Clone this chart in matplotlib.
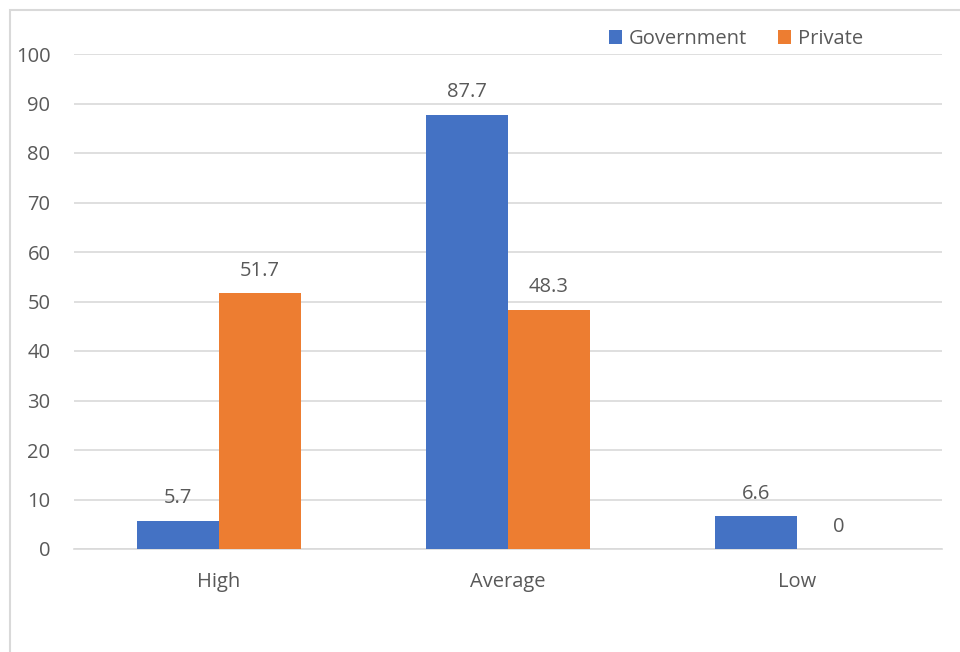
import matplotlib
matplotlib.use("Agg")
import matplotlib.pyplot as plt
import numpy as np
from matplotlib.patches import Rectangle

categories = ["High", "Average", "Low"]
government = [5.7, 87.7, 6.6]
private = [51.7, 48.3, 0]
series_names = ["Government", "Private"]
yticks = [0, 10, 20, 30, 40, 50, 60, 70, 80, 90, 100]

plt.rcParams['font.family'] = ['Open Sans', 'DejaVu Sans']
txt = '#595959'
grid = '#D9D9D9'
c_gov = '#4472C4'
c_priv = '#ED7D31'
fs = 14.5

fig = plt.figure(figsize=(9.6, 6.52), dpi=100)
# chart frame
fig.patches.append(Rectangle((10/960, -0.1), 1.2, 1 - 10/652 + 0.1, transform=fig.transFigure,
                             fill=False, edgecolor=grid, linewidth=1.5))
ax = fig.add_axes([74/960, 1 - 549/652, (942 - 74)/960, (549 - 54)/652])

x = np.arange(len(categories))
w = 0.2835
b1 = ax.bar(x - w/2, government, w, color=c_gov, label=series_names[0], zorder=3)
b2 = ax.bar(x + w/2, private, w, color=c_priv, label=series_names[1], zorder=3)

for bars, vals in ((b1, government), (b2, private)):
    for r, v in zip(bars, vals):
        ax.annotate(f"{v:g}", (r.get_x() + r.get_width()/2, v), xytext=(0, 9),
                    textcoords='offset points', ha='center', va='bottom',
                    fontsize=fs, color=txt)

ax.set_xlim(-0.5, 2.5)
ax.set_ylim(0, 100)
ax.set_yticks(yticks)
ax.set_xticks(x)
ax.set_xticklabels(categories)
ax.tick_params(axis='both', length=0, labelsize=fs, colors=txt)
ax.tick_params(axis='y', pad=17)
ax.tick_params(axis='x', pad=16.5)
ax.yaxis.grid(True, color=grid, linewidth=1.2, zorder=0)
for s in ['top', 'right', 'left']:
    ax.spines[s].set_visible(False)
ax.spines['bottom'].set_color(grid)
ax.spines['bottom'].set_linewidth(1.2)

leg = ax.legend(loc='upper left', bbox_to_anchor=(609/960, 1 - 29/652), bbox_transform=fig.transFigure,
                ncol=2, frameon=False, fontsize=fs, handlelength=0.65, handleheight=0.65,
                handletextpad=0.35, columnspacing=1.5, borderaxespad=0, borderpad=0)
for t in leg.get_texts():
    t.set_color(txt)

fig.savefig("out.png", dpi=100)
